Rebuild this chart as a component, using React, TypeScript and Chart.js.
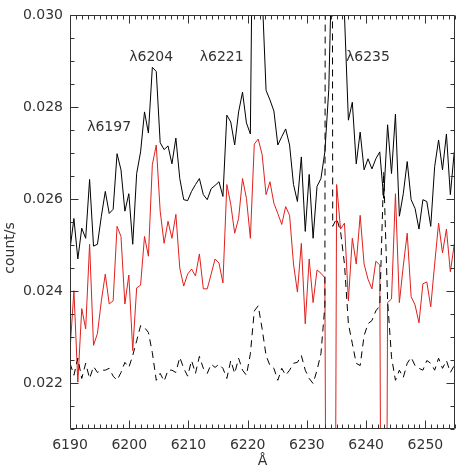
import React, { useEffect, useRef } from 'react';
import { Chart, registerables } from 'chart.js';

Chart.register(...registerables);

// Axis ranges
const X_MIN = 6190;
const X_MAX = 6255;
const Y_MIN = 0.021;
const Y_MAX = 0.03;

// Spectral grid (uniform dispersion)
const WAVE_START = 6190;
const WAVE_STEP = 0.662;

// Labelled ticks
const X_TICK_LABELS = [6190, 6200, 6210, 6220, 6230, 6240, 6250];
const Y_TICK_LABELS = [0.022, 0.024, 0.026, 0.028, 0.03];

// Solid black spectrum
const BLACK = [
  0.02491, 0.02558, 0.0247, 0.02537, 0.02515, 0.02643, 0.02498, 0.02502, 0.02563, 0.02617,
  0.02569, 0.02578, 0.02699, 0.02664, 0.02574, 0.02612, 0.02502, 0.02656, 0.02703, 0.0279,
  0.02744, 0.02887, 0.02878, 0.02723, 0.02708, 0.02716, 0.02677, 0.02733, 0.02645, 0.02599,
  0.02597, 0.02617, 0.02632, 0.02645, 0.0261, 0.02599, 0.02623, 0.0263, 0.02638, 0.02606,
  0.02783, 0.02768, 0.02718, 0.0279, 0.02833, 0.02766, 0.02742, 0.036, 0.034, 0.0305,
  0.02837, 0.02816, 0.02792, 0.02718, 0.02736, 0.02753, 0.02718, 0.02632, 0.02595, 0.02692,
  0.0253, 0.02654, 0.02515, 0.02628, 0.02645, 0.02703, 0.02839, 0.032, 0.034, 0.032,
  0.03, 0.02772, 0.02811, 0.02677, 0.02746, 0.02664, 0.02688, 0.02666, 0.02688, 0.02703,
  0.02602, 0.02762, 0.02656, 0.02785, 0.02563, 0.02612, 0.02682, 0.02599, 0.0258, 0.02535,
  0.02599, 0.02595, 0.02541, 0.02671, 0.02729, 0.02664, 0.02742, 0.0261, 0.02703, 0.02703,
];

// Red spectrum
const RED = [
  0.02271, 0.02401, 0.02202, 0.02362, 0.02318, 0.02502, 0.02282, 0.02308, 0.02379, 0.02437,
  0.02372, 0.02379, 0.02541, 0.02519, 0.02372, 0.02435, 0.02271, 0.02407, 0.02413, 0.02519,
  0.02476, 0.02675, 0.02718, 0.02574, 0.02504, 0.02552, 0.02515, 0.02567, 0.0245, 0.02411,
  0.02437, 0.02448, 0.02433, 0.02481, 0.02405, 0.02405, 0.02437, 0.0247, 0.02461, 0.02418,
  0.02632, 0.02589, 0.02526, 0.02558, 0.02645, 0.02602, 0.02515, 0.0272, 0.02731, 0.02697,
  0.0261, 0.02638, 0.02591, 0.02569, 0.02545, 0.02584, 0.02565, 0.02459, 0.02398, 0.02504,
  0.02329, 0.0247, 0.02375, 0.02446, 0.02439, 0.02429, 0.003, 0.003, 0.02632, 0.02535,
  0.02548, 0.02379, 0.02515, 0.02459, 0.02565, 0.02459, 0.02426, 0.02405, 0.02465, 0.02457,
  0.003, 0.02375, 0.02383, 0.02612, 0.02375, 0.02455, 0.02526, 0.02388, 0.0237, 0.02331,
  0.02416, 0.0242, 0.02366, 0.02459, 0.02548, 0.02483, 0.02535, 0.02442, 0.02502, 0.02541,
];

// Dashed black spectrum
const DASHED = [
  0.02243, 0.02217, 0.02254, 0.0221, 0.02243, 0.0221, 0.02236, 0.02223, 0.02228, 0.02228,
  0.02232, 0.02215, 0.02206, 0.02223, 0.02245, 0.02234, 0.0226, 0.02292, 0.02325, 0.02321,
  0.0231, 0.02266, 0.02206, 0.02221, 0.02204, 0.02228, 0.02228, 0.02223, 0.02256, 0.02232,
  0.02215, 0.02249, 0.02221, 0.02258, 0.02232, 0.02221, 0.02241, 0.02234, 0.02241, 0.02232,
  0.0221, 0.02249, 0.02221, 0.02254, 0.02228, 0.02217, 0.02264, 0.02357, 0.02368, 0.02318,
  0.0226, 0.02238, 0.02232, 0.02206, 0.02232, 0.02217, 0.02228, 0.02243, 0.02245, 0.0226,
  0.02228, 0.0221, 0.02199, 0.02228, 0.02264, 0.02368, 0.1, 0.02541, 0.02558, 0.0253,
  0.02459, 0.02329, 0.02286, 0.02243, 0.02238, 0.02303, 0.02329, 0.02336, 0.02357, 0.02368,
  0.0266, 0.02379, 0.02256, 0.02206, 0.02228, 0.02212, 0.02243, 0.02256, 0.02238, 0.02232,
  0.02228, 0.02249, 0.02243, 0.02228, 0.02254, 0.02232, 0.02249, 0.02223, 0.02238, 0.02223,
];

// Line identifications
const LINE_LABELS = ['λ6197', 'λ6204', 'λ6221', 'λ6235'];
const LINE_LABEL_X = [6192.9, 6200.0, 6211.9, 6236.6];
const LINE_LABEL_Y = [0.02757, 0.02909, 0.02909, 0.02909];

const X_TITLE = 'Å';
const Y_TITLE = 'count/s';

const FONT = '"DejaVu Sans", sans-serif';

const WAVELENGTHS = BLACK.map((_, i) => WAVE_START + i * WAVE_STEP);
const toPoints = (vals: number[]) => vals.map((v, i) => ({ x: WAVELENGTHS[i], y: v }));

const framePlugin = {
  id: 'idlFrame',
  afterDatasetsDraw(chart: any) {
    const { ctx, chartArea: a, scales } = chart;
    const xs = scales.x;
    const ys = scales.y;
    ctx.save();
    ctx.strokeStyle = '#333';
    ctx.lineWidth = 1;
    ctx.beginPath();
    const L = Math.round(a.left) + 0.5;
    const R = Math.round(a.right) - 0.5;
    const T = Math.round(a.top) + 0.5;
    const B = Math.round(a.bottom) - 0.5;
    ctx.moveTo(L, T);
    ctx.lineTo(R, T);
    ctx.lineTo(R, B);
    ctx.lineTo(L, B);
    ctx.closePath();
    xs.ticks.forEach((t: any) => {
      const px = Math.round(xs.getPixelForValue(t.value)) + 0.5;
      const len = t.label ? 8 : 4;
      ctx.moveTo(px, B);
      ctx.lineTo(px, B - len);
      ctx.moveTo(px, T);
      ctx.lineTo(px, T + len);
    });
    ys.ticks.forEach((t: any) => {
      const py = Math.round(ys.getPixelForValue(t.value)) + 0.5;
      const len = t.label ? 8 : 4;
      ctx.moveTo(L, py);
      ctx.lineTo(L + len, py);
      ctx.moveTo(R, py);
      ctx.lineTo(R - len, py);
    });
    ctx.stroke();

    ctx.fillStyle = '#333';
    ctx.font = '14px ' + FONT;
    ctx.textAlign = 'left';
    ctx.textBaseline = 'middle';
    LINE_LABELS.forEach((txt, i) => {
      ctx.fillText(txt, xs.getPixelForValue(LINE_LABEL_X[i]), ys.getPixelForValue(LINE_LABEL_Y[i]));
    });

    ctx.textAlign = 'center';
    ctx.fillText(X_TITLE, (a.left + a.right) / 2, 461);
    ctx.save();
    ctx.translate(10, 248);
    ctx.rotate(-Math.PI / 2);
    ctx.fillText(Y_TITLE, 0, 0);
    ctx.restore();
    ctx.restore();
  },
};

export default function App() {
  const ref = useRef<HTMLCanvasElement | null>(null);
  useEffect(() => {
    document.body.style.margin = '0';
    if (!ref.current) return;
    const chart = new Chart(ref.current, {
      type: 'line',
      data: {
        datasets: [
          { data: toPoints(DASHED), borderColor: '#000', borderWidth: 1, borderDash: [7, 5], pointRadius: 0, tension: 0, fill: false },
          { data: toPoints(RED), borderColor: '#e0201c', borderWidth: 1, pointRadius: 0, tension: 0, fill: false },
          { data: toPoints(BLACK), borderColor: '#000', borderWidth: 1, pointRadius: 0, tension: 0, fill: false },
        ],
      },
      options: {
        responsive: false,
        animation: false,
        events: [],
        layout: { padding: { top: 13, right: 17, left: 0, bottom: 0 } },
        plugins: { legend: { display: false }, tooltip: { enabled: false } },
        scales: {
          x: {
            type: 'linear',
            min: X_MIN,
            max: X_MAX,
            grid: { display: false, drawTicks: false },
            border: { display: false },
            ticks: {
              stepSize: 1,
              autoSkip: false,
              maxRotation: 0,
              padding: 8,
              color: '#333',
              font: { family: FONT, size: 14 },
              callback: (v: any) => {
                const r = Math.round(Number(v));
                return Math.abs(Number(v) - r) < 1e-6 && X_TICK_LABELS.includes(r) ? String(r) : '';
              },
            },
            afterFit: (s: any) => {
              s.height = 43;
            },
          },
          y: {
            type: 'linear',
            min: Y_MIN,
            max: Y_MAX,
            grid: { display: false, drawTicks: false },
            border: { display: false },
            ticks: {
              stepSize: 0.0005,
              autoSkip: false,
              padding: 7,
              color: '#333',
              font: { family: FONT, size: 14 },
              callback: (v: any) => {
                const k = Y_TICK_LABELS.find((t) => Math.abs(t - Number(v)) < 1e-7);
                return k !== undefined ? k.toFixed(3) : '';
              },
            },
            afterFit: (s: any) => {
              s.width = 70;
            },
          },
        },
      },
      plugins: [framePlugin],
    });
    return () => chart.destroy();
  }, []);
  return (
    <div style={{ width: 472, height: 472, position: 'relative', background: '#fff' }}>
      <canvas ref={ref} width={472} height={472} />
    </div>
  );
}
